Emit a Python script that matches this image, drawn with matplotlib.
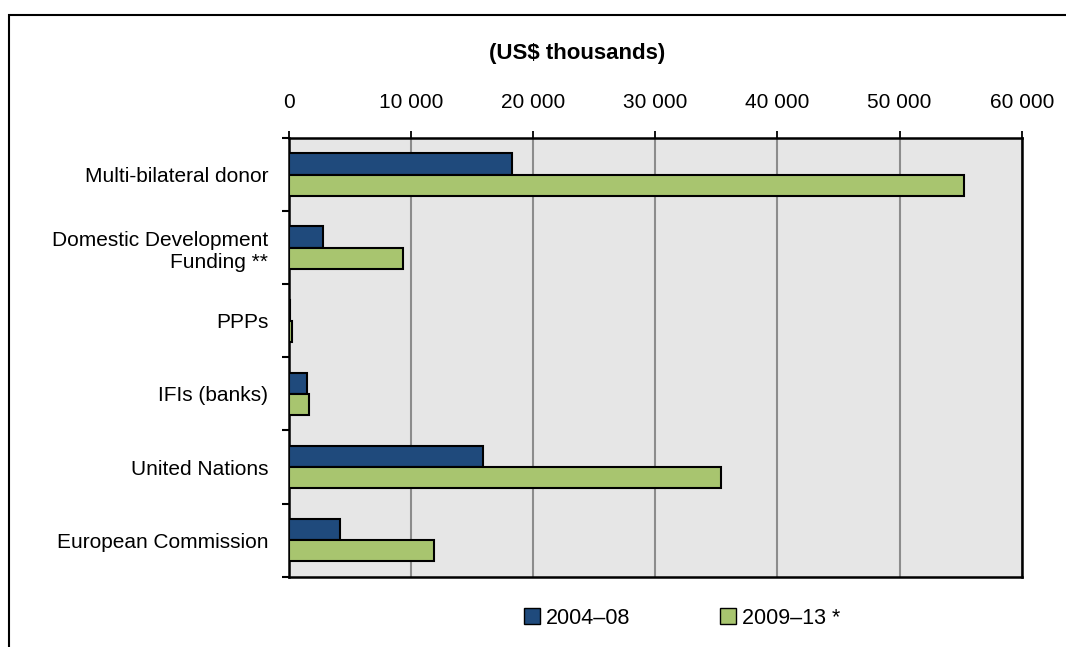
import matplotlib.pyplot as plt
import numpy as np
from matplotlib.patches import Rectangle, Patch

categories = ['Multi-bilateral donor', 'Domestic Development\nFunding **', 'PPPs',
              'IFIs (banks)', 'United Nations', 'European Commission']
vals_0408 = [18300, 2800, 120, 1450, 15900, 4150]
vals_0913 = [55300, 9300, 280, 1600, 35400, 11850]
series = ['2004\u201308', '2009\u201313 *']
xticks = [0, 10000, 20000, 30000, 40000, 50000, 60000]
xticklabels = ['0', '10 000', '20 000', '30 000', '40 000', '50 000', '60 000']

plt.rcParams['font.family'] = ['Liberation Sans', 'DejaVu Sans']

blue = '#1F4A7C'
green = '#A8C56F'

fig = plt.figure(figsize=(10.66, 6.47), dpi=100)
ax = fig.add_axes([289/1066, 1-576.7/647, (1021.7-289)/1066, (576.7-138)/647])
ax.set_facecolor('#E6E6E6')

y = np.arange(len(categories))
h = 0.29
ax.barh(y - h/2, vals_0408, height=h, color=blue, edgecolor='black', linewidth=1.5, zorder=3)
ax.barh(y + h/2, vals_0913, height=h, color=green, edgecolor='black', linewidth=1.5, zorder=3)

ax.set_ylim(len(categories) - 0.5, -0.5)
ax.set_xlim(0, 60000)
ax.set_yticks(y)
ax.set_yticklabels(categories, fontsize=15, ha='right', multialignment='right')
ax.set_yticks(np.arange(len(categories) + 1) - 0.5, minor=True)
ax.tick_params(axis='y', which='major', length=0, pad=15)
ax.tick_params(axis='y', which='minor', length=5, width=1.5, direction='out')

ax.xaxis.tick_top()
ax.set_xticks(xticks)
ax.set_xticklabels(xticklabels, fontsize=15)
ax.tick_params(axis='x', length=5, width=1.3, pad=14)
ax.grid(axis='x', color='#8C8C8C', linewidth=1.5, zorder=1)
ax.set_axisbelow(True)
for s in ax.spines.values():
    s.set_linewidth(1.8)
    s.set_color('black')

fig.text(577/1066, 1-54/647, '(US$ thousands)', fontsize=16, fontweight='bold',
         ha='center', va='center')

handles = [Patch(facecolor=blue, edgecolor='black'), Patch(facecolor=green, edgecolor='black')]
fig.legend(handles, series, loc='center', bbox_to_anchor=(682/1066, 1-618/647), ncol=2,
           frameon=False, fontsize=15.5, handlelength=0.75, handleheight=0.75,
           handletextpad=0.25, columnspacing=4.2)

fig.patches.append(Rectangle((9/1066, -0.1), 1.2, 1-15/647 + 0.1, transform=fig.transFigure,
                             fill=False, edgecolor='black', linewidth=1.5))

fig.savefig('out.png', dpi=100)
